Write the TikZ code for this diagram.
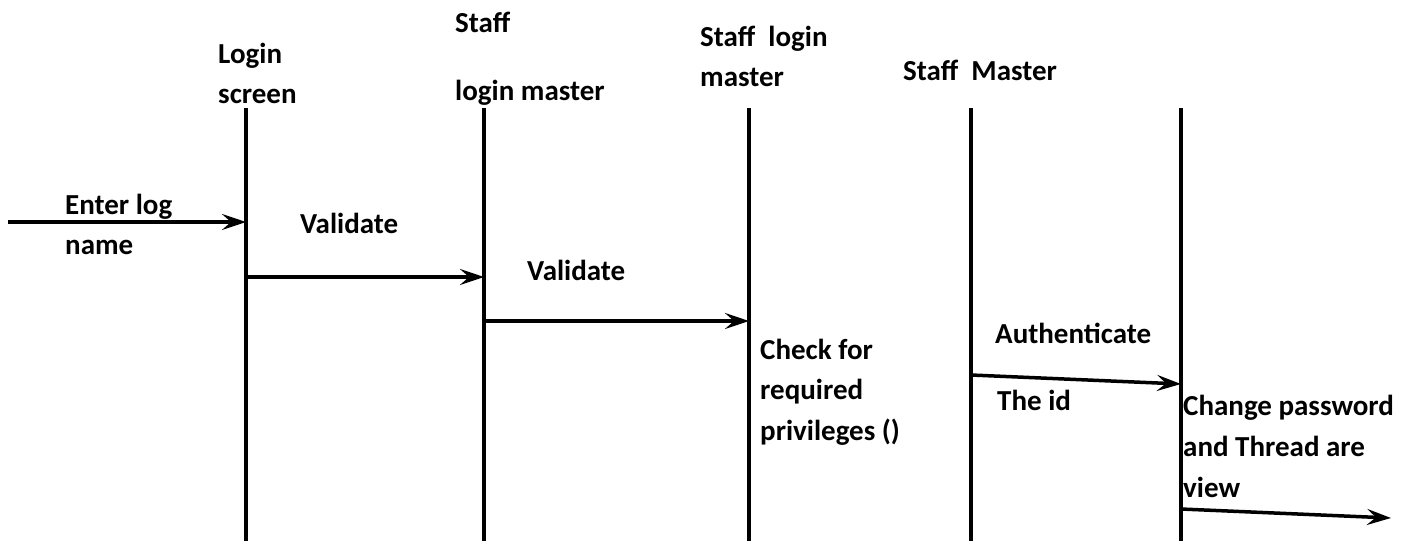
\documentclass[tikz,border=0pt]{standalone}
\usepackage{fontspec}
\setmainfont{Carlito}
\usetikzlibrary{arrows.meta}
\begin{document}
\begin{tikzpicture}[x=1pt,y=-1pt,
  lifeline/.style={line width=3.5pt},
  msg/.style={line width=3.5pt,-{Stealth[length=24pt,width=16pt,inset=9pt]}},
  lbl/.style={anchor=base west,inner sep=0pt,font=\fontsize{29}{41}\selectfont\bfseries}]
\useasboundingbox (0,0) rectangle (1416,541);
% lifelines
\foreach \n/\x in {a/246,b/484,c/749,d/971,e/1181}{
  \coordinate (\n t) at (\x,108);
  \coordinate (\n b) at (\x,541);
  \draw[lifeline] (\n t) -- (\n b);
}
% headers
\node[lbl] (h1a) at (218,63) {Login};
\node[lbl] (h1b) at (218,103) {screen};
\node[lbl] (h2a) at (455,32) {Staff};
\node[lbl] (h2b) at (455,100) {login master};
\node[lbl] (h3a) at (700,46) {Staff\ \ login};
\node[lbl] (h3b) at (700,86) {master};
\node[lbl] (h4) at (903,80) {Staff\ \ Master};
% messages
\coordinate (start) at (8,222);
\coordinate (a1) at (246,222);
\draw[msg] (start) -- (a1);
\coordinate (a2) at (246,277);
\coordinate (b2) at (484,277);
\draw[msg] (a2) -- (b2);
\coordinate (b3) at (484,321);
\coordinate (c3) at (749,321);
\draw[msg] (b3) -- (c3);
\coordinate (d4) at (971,375);
\coordinate (e4) at (1181,384);
\draw[msg] (d4) -- (e4);
\coordinate (e5) at (1181,509);
\coordinate (end) at (1391,518);
\draw[msg] (e5) -- (end);
% labels
\node[lbl] (m1a) at (65,214) {Enter log};
\node[lbl] (m1b) at (65,254) {name};
\node[lbl] (m2) at (300,233) {Validate};
\node[lbl] (m3) at (527,280) {Validate};
\node[lbl] (m4a) at (760,359) {Check for};
\node[lbl] (m4b) at (760,399) {required};
\node[lbl] (m4c) at (760,440) {privileges ()};
\node[lbl] (m5) at (995,343) {Authenticate};
\node[lbl] (m6) at (997,410) {The id};
\node[lbl] (m7a) at (1183,415) {Change password};
\node[lbl] (m7b) at (1183,456) {and Thread are};
\node[lbl] (m7c) at (1183,497) {view};
\end{tikzpicture}
\end{document}
